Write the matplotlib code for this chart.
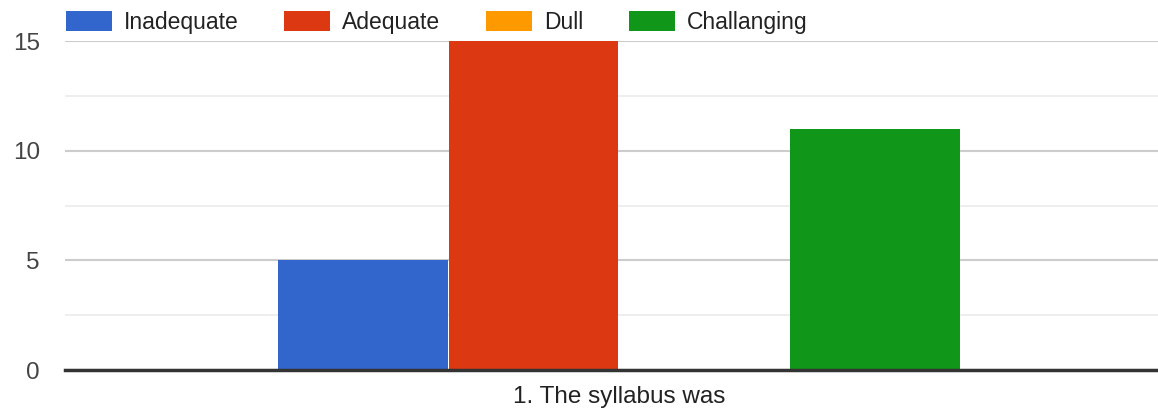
import matplotlib.pyplot as plt
import matplotlib.transforms as mtransforms
from matplotlib.ticker import MultipleLocator

plt.rcParams['font.family'] = ['Liberation Sans', 'DejaVu Sans']

# data
categories = ['Inadequate', 'Adequate', 'Dull', 'Challanging']
counts = [5, 15, 0, 11]
colors = ['#3366cc', '#dc3912', '#ff9900', '#109618']
question = '1. The syllabus was'

fig = plt.figure(figsize=(11.58, 4.15), dpi=100)
ax = fig.add_axes([0.0561, 0.1084, 0.9439, 0.7928])

for i, (cat, val, col) in enumerate(zip(categories, counts, colors)):
    ax.bar(i, val, width=0.995, color=col, label=cat, zorder=3)

ax.set_xlim(-1.745, 4.66)
ax.set_ylim(0, 15)
ax.yaxis.set_major_locator(MultipleLocator(5))
ax.yaxis.set_minor_locator(MultipleLocator(2.5))
ax.grid(axis='y', which='major', color='#cccccc', linewidth=1.5, zorder=0)
ax.grid(axis='y', which='minor', color='#ebebeb', linewidth=1.2, zorder=0)
ax.set_axisbelow(True)

for s in ['top', 'right', 'left']:
    ax.spines[s].set_visible(False)
ax.spines['bottom'].set_color('#333333')
ax.spines['bottom'].set_linewidth(2.5)
ax.spines['bottom'].set_zorder(4)

ax.set_xticks([])
ax.tick_params(axis='y', which='both', length=0, labelsize=17.5, labelcolor='#444444', pad=18)

trans = mtransforms.blended_transform_factory(ax.transData, ax.transAxes)
ax.text(1.5, -0.082, question, transform=trans, ha='center', va='center',
        fontsize=17.5, color='#222222')

fig.legend(loc='upper left', bbox_to_anchor=(0.057, 0.974), ncol=4, frameon=False,
           fontsize=16.5, handlelength=2.0, handleheight=1.0, handletextpad=0.52,
           columnspacing=2.0, labelcolor='#222222', borderaxespad=0, borderpad=0)

fig.savefig('out.png', dpi=100)
